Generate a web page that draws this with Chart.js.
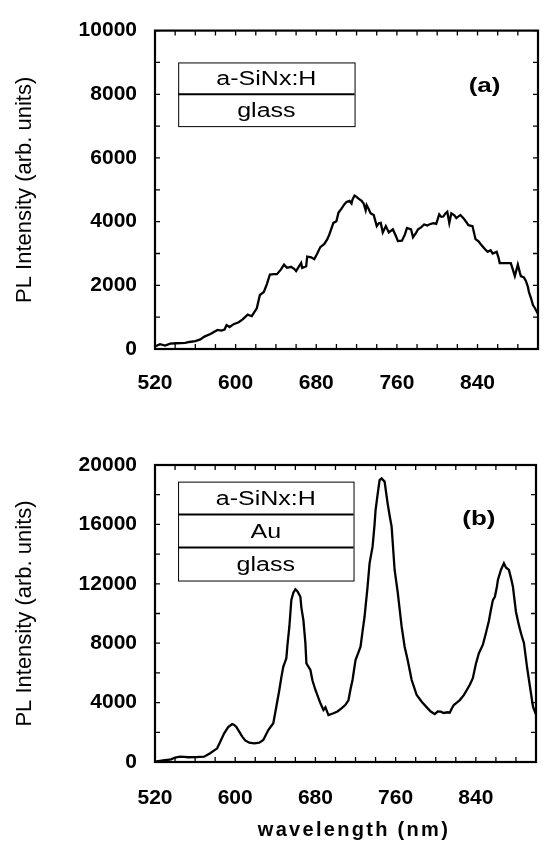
<!DOCTYPE html>
<html lang="en">
<head>
<meta charset="utf-8">
<title>PL spectra</title>
<script src="https://cdn.jsdelivr.net/npm/chart.js@4.4.0/dist/chart.umd.min.js"></script>
<style>
  body { margin:0; width:551px; height:842px; overflow:hidden; background:#fff; position:relative; font-family:"Liberation Sans", Arial, sans-serif; }
  .panel { position:absolute; left:0; }
  #xtitle { position:absolute; left:0; width:708px; top:818px; text-align:center; font-weight:bold; font-size:20px; letter-spacing:2.3px; color:#000; }
</style>
</head>
<body>
<div class="panel" style="top:0"><canvas id="chartA" width="560" height="400"></canvas></div>
<div class="panel" style="top:420px"><canvas id="chartB" width="560" height="422"></canvas></div>
<div id="xtitle">wavelength (nm)</div>
<script>
// tick labels
const xTickLabels = [520, 600, 680, 760, 840];
const yTickLabelsA = [0, 2000, 4000, 6000, 8000, 10000];
const yTickLabelsB = [0, 4000, 8000, 12000, 16000, 20000];

// layer stacks drawn in the boxes
const layersA = ['a-SiNx:H', 'glass'];
const layersB = ['a-SiNx:H', 'Au', 'glass'];

// (a) a-SiNx:H on glass
const waveA = [520,525,530,535,541,550,554,560,565,569,575,582,586,589,591,594,598,603,607,612,
  616,621,624,628,631,634,638,641,645,648,651,655,658,660,663,665,666,670,671,675,
  678,681,684,688,691,693,697,700,702,705,708,710,713,715,716,718,720,722,725,727,
  729,730,732,734,737,740,742,744,746,749,752,756,759,761,765,768,770,774,776,779,
  781,784,787,790,792,796,799,802,804,806,808,810,812,814,817,819,823,826,829,831,
  835,838,841,843,847,850,853,855,859,861,862,868,873,875,877,880,882,883,886,888,
  890,891,893,895,897,900];
const intA = [80,150,110,170,180,190,220,250,300,390,470,600,580,610,750,690,780,840,930,1080,
  1030,1280,1690,1790,2040,2340,2350,2350,2500,2650,2550,2580,2520,2450,2600,2700,2550,2600,2900,2880,
  2820,3000,3200,3300,3450,3600,3960,4010,4280,4410,4550,4620,4650,4570,4700,4820,4780,4720,4650,4570,
  4360,4520,4400,4260,4210,3860,3950,3960,3660,3860,3660,3760,3550,3390,3400,3600,3800,3760,3510,3650,
  3760,3820,3910,3880,3910,3950,3930,4230,4150,4160,4250,4310,3960,4260,4200,4110,4210,4110,3980,3890,
  3860,3450,3380,3300,3150,3050,3100,3000,3050,2850,2700,2700,2700,2500,2290,2650,2400,2290,2250,2140,
  1950,1790,1600,1380,1280,1100];

// (b) a-SiNx:H / Au / glass
const waveB = [520,528,536,540,545,549,553,561,569,575,582,586,589,593,597,599,601,604,607,610,
  614,619,624,628,633,638,641,644,646,648,651,652,654,656,658,660,662,665,666,668,
  670,671,675,677,680,685,688,690,693,698,702,706,710,713,715,717,720,723,725,727,
  729,732,734,737,739,740,742,744,746,749,752,754,756,759,762,764,766,769,772,774,
  776,781,786,792,795,799,802,805,808,812,814,816,818,821,824,828,831,834,837,840,
  843,847,850,853,855,857,859,861,862,865,868,870,873,875,877,880,883,885,888,891,
  894,897,900];
const intB = [30,100,180,300,360,340,320,330,360,590,920,1500,1930,2350,2560,2500,2380,2050,1710,1450,
  1300,1250,1300,1480,2150,2610,3720,4850,5700,6420,6980,7800,9110,10910,11400,11630,11500,11130,10400,9560,
  8000,6640,6200,5500,4850,3950,3500,3680,3160,3280,3400,3610,3850,4170,4900,5520,6870,7400,7760,8800,
  9780,11800,13380,14500,16000,16970,18000,18990,19100,18880,17420,16600,15850,12930,11470,10300,9110,7760,6870,6200,
  5520,4510,4060,3610,3400,3230,3400,3390,3300,3350,3320,3600,3840,4000,4170,4500,4850,5200,5640,6600,
  7320,7900,8670,9500,10240,10900,11130,11800,12260,12930,13380,13100,12930,12400,11800,10120,9200,8670,8000,6420,
  5070,3720,3200];

const family = '"Liberation Sans", Arial, Helvetica, sans-serif';

function stretchText(ctx, text, x, y, font, sx) {
  ctx.save();
  ctx.font = font;
  ctx.translate(x, y);
  ctx.scale(sx, 1);
  ctx.textAlign = 'center';
  ctx.textBaseline = 'middle';
  ctx.fillText(text, 0, 0);
  ctx.restore();
}

// closed frame with inward ticks on all four sides
const framePlugin = {
  id: 'frame',
  afterDatasetsDraw(chart) {
    const {ctx, chartArea: a, scales: {x, y}} = chart;
    ctx.save();
    ctx.strokeStyle = '#000';
    ctx.lineWidth = 1.3;
    ctx.beginPath();
    x.ticks.forEach(t => {
      const px = x.getPixelForValue(t.value);
      ctx.moveTo(px, a.bottom); ctx.lineTo(px, a.bottom - 5);
      ctx.moveTo(px, a.top); ctx.lineTo(px, a.top + 5);
    });
    y.ticks.forEach(t => {
      const py = y.getPixelForValue(t.value);
      ctx.moveTo(a.left, py); ctx.lineTo(a.left + 5, py);
      ctx.moveTo(a.right, py); ctx.lineTo(a.right - 5, py);
    });
    ctx.stroke();
    ctx.lineWidth = 2.2;
    ctx.strokeRect(a.left, a.top, a.width, a.height);
    ctx.restore();
  }
};

// sample structure box + panel tag
function stackPlugin(cfg) {
  return {
    id: 'stack',
    afterDraw(chart) {
      const {ctx, scales: {x, y}} = chart;
      const left = x.getPixelForValue(cfg.boxX[0]);
      const right = x.getPixelForValue(cfg.boxX[1]);
      const top = y.getPixelForValue(cfg.boxTop);
      const rowH = y.getPixelForValue(cfg.boxTop - cfg.rowSpan) - top;
      const n = cfg.layers.length;
      ctx.save();
      ctx.strokeStyle = '#000';
      ctx.lineWidth = 1;
      ctx.strokeRect(left + 0.5, top + 0.5, right - left, rowH * n);
      ctx.lineWidth = 2;
      ctx.beginPath();
      for (let i = 1; i < n; i++) {
        ctx.moveTo(left, top + i * rowH);
        ctx.lineTo(right, top + i * rowH);
      }
      ctx.stroke();
      ctx.fillStyle = '#000';
      cfg.layers.forEach((name, i) => {
        stretchText(ctx, name, (left + right) / 2, top + (i + 0.5) * rowH + 1, '20px ' + family, 1.25);
      });
      stretchText(ctx, cfg.tag, x.getPixelForValue(cfg.tagAt[0]), y.getPixelForValue(cfg.tagAt[1]), 'bold 20px ' + family, 1.3);
      ctx.restore();
    }
  };
}

function makeChart(id, waves, values, yLabels, cfg) {
  return new Chart(document.getElementById(id), {
    type: 'line',
    data: {
      datasets: [{
        data: waves.map((w, i) => ({x: w, y: values[i]})),
        borderColor: '#000',
        borderWidth: 2.3,
        pointRadius: 0,
        tension: 0,
        fill: false
      }]
    },
    options: {
      responsive: false,
      animation: false,
      layout: { padding: { top: cfg.top, right: 7, left: 0, bottom: 0 } },
      plugins: { legend: { display: false }, tooltip: { enabled: false } },
      scales: {
        x: {
          type: 'linear', min: 520, max: 900,
          afterFit: s => { s.height = cfg.xAxisH; },
          grid: { display: false, drawTicks: false },
          border: { display: false },
          ticks: {
            stepSize: 20, autoSkip: false, maxRotation: 0, padding: cfg.xPad, color: '#000',
            font: { family: family, size: 21, weight: 'bold' },
            callback: v => xTickLabels.includes(v) ? String(v) : ''
          }
        },
        y: {
          min: 0, max: yLabels[yLabels.length - 1],
          afterFit: s => { s.width = 155; },
          grid: { display: false, drawTicks: false },
          border: { display: false },
          ticks: {
            stepSize: cfg.yStep, autoSkip: false, padding: 18, color: '#000',
            font: { family: family, size: 21, weight: 'bold' },
            callback: v => yLabels.includes(v) ? String(v) : ''
          },
          title: {
            display: true, text: 'PL Intensity (arb. units)', color: '#000',
            font: { family: family, size: 22 },
            padding: { top: 12, bottom: 0 }
          }
        }
      }
    },
    plugins: [framePlugin, stackPlugin(cfg)]
  });
}

makeChart('chartA', waveA, intA, yTickLabelsA, {
  top: 19, xAxisH: 51, xPad: 22, yStep: 1000,
  layers: layersA, boxX: [543, 718], boxTop: 9000, rowSpan: 1000,
  tag: '(a)', tagAt: [847, 8230]
});

makeChart('chartB', waveB, intB, yTickLabelsB, {
  top: 45, xAxisH: 80, xPad: 24, yStep: 2000,
  layers: layersB, boxX: [543, 718], boxTop: 18880, rowSpan: 2220,
  tag: '(b)', tagAt: [843, 16300]
});
</script>
</body>
</html>
